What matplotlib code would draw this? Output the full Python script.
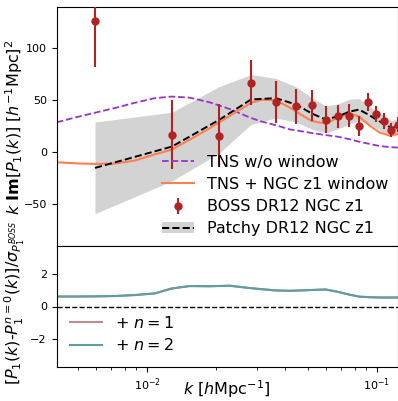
import numpy as np
import matplotlib
matplotlib.use("Agg")
import matplotlib.pyplot as plt

# ---- data ----
k_model = [0.00405, 0.00485, 0.00592, 0.00724, 0.00884, 0.0108, 0.0128, 0.0153,
           0.0187, 0.0229, 0.0283, 0.0315, 0.0363, 0.0417, 0.0461, 0.0520,
           0.0598, 0.0675, 0.0761, 0.0841, 0.0930, 0.1027, 0.1136, 0.1231]
tns_nowin = [28.8, 33.3, 37.9, 42.5, 47.5, 52.0, 53.5, 52.5, 48.0, 41.5, 33.0, 29.5,
             26.0, 22.0, 20.5, 18.5, 16.5, 15.0, 12.5, 10.0, 8.0, 6.0, 5.0, 4.5]
tns_win = [-9.6, -10.6, -11.2, -10.8, -8.0, -2.0, 2.5, 12.0, 23.0, 35.0, 47.5, 50.5,
           50.0, 43.0, 37.0, 30.0, 27.6, 33.0, 37.5, 34.0, 25.5, 19.0, 16.0, 17.5]
ratio_n1 = [0.61, 0.61, 0.62, 0.64, 0.70, 0.80, 1.1, 1.25, 1.24, 1.27, 1.12, 1.06,
            0.98, 0.96, 0.98, 1.01, 1.04, 0.9, 0.72, 0.6, 0.57, 0.55, 0.55, 0.55]
ratio_n2 = [0.61, 0.61, 0.62, 0.64, 0.70, 0.80, 1.1, 1.25, 1.24, 1.27, 1.12, 1.06,
            0.98, 0.96, 0.98, 1.01, 1.04, 0.9, 0.72, 0.6, 0.57, 0.55, 0.55, 0.55]

k_data = [0.00594, 0.01284, 0.02054, 0.02833, 0.03626, 0.04431, 0.05233, 0.05984,
          0.06797, 0.07577, 0.08353, 0.09176, 0.0994, 0.1077, 0.1155, 0.1231]
boss = [126.3, 17.0, 16.0, 67.0, 48.0, 44.2, 45.0, 31.2, 34.6, 35.3, 25.0, 48.1,
        36.9, 29.8, 21.2, 26.6]
boss_err = [44, 33, 30, 22, 20, 17, 15, 13, 11, 10.7, 9.6, 8.5, 8, 7.5, 7, 7]
patchy = [-15, 5.5, 31, 50.7, 52, 46, 37, 31.5, 34.6, 39, 41, 36.2, 31.4, 27, 23.4, 25]
patchy_sd = [44, 33, 32, 24, 19, 17, 15, 13, 12, 12, 10.5, 9, 8, 8, 7, 7]

W, H = 398, 401
fig = plt.figure(figsize=(W / 100, H / 100), dpi=100)
left = 56.5 / W
right = 1.0
ytop = 1 - 6.5 / H
ymid = 1 - 246 / H
ybot = 1 - 367 / H
ax1 = fig.add_axes([left, ymid, right - left, ytop - ymid])
ax2 = fig.add_axes([left, ybot, right - left, ymid - ybot], sharex=ax1)

pm = np.array(patchy)
ps = np.array(patchy_sd)
l1, = ax1.plot(k_model, tns_nowin, ls='--', color='darkorchid', lw=1.3, label='TNS w/o window')
l2, = ax1.plot(k_model, tns_win, ls='-', color='coral', lw=1.5, label='TNS + NGC z1 window')
band = ax1.fill_between(k_data, pm - ps, pm + ps, color='lightgray', lw=0, zorder=0)
l4, = ax1.plot(k_data, patchy, ls='--', color='black', lw=1.4)
eb = ax1.errorbar(k_data, boss, yerr=boss_err, fmt='o', color='firebrick', ms=5,
                  elinewidth=1.5, capsize=0, zorder=5)
ax1.set_xscale('log')
ax1.set_xlim(0.00404, 0.1234)
ax1.set_ylim(-90, 140)
ax1.set_yticks([-50, 0, 50, 100])
ax1.tick_params(axis='x', which='both', bottom=False, labelbottom=False)
ax1.tick_params(axis='y', labelsize=8)
ax1.set_ylabel(r'$k\ \mathbf{Im}[P_1(k)]\ [h^{-1}\mathrm{Mpc}]^2$', fontsize=11.5)
ax1.yaxis.set_label_coords(-0.092, 0.497)
ax1.legend([l1, l2, eb, (band, l4)],
           ['TNS w/o window', 'TNS + NGC z1 window', 'BOSS DR12 NGC z1', 'Patchy DR12 NGC z1'],
           loc='lower right', frameon=False, fontsize=11.5, labelspacing=0.45,
           borderaxespad=0.2, handletextpad=0.8)

ax2.plot(k_model, ratio_n1, color='rosybrown', lw=1.5, label=r'$+\ n=1$')
ax2.plot(k_model, ratio_n2, color='cadetblue', lw=1.5, label=r'$+\ n=2$')
ax2.axhline(0, color='black', ls='--', lw=1)
ax2.set_ylim(-3.7, 3.7)
ax2.set_yticks([-2, 0, 2])
ax2.tick_params(axis='both', which='both', labelsize=8)
ax2.set_xlabel(r'$k\ [h\mathrm{Mpc}^{-1}]$', fontsize=11.5)
ax2.xaxis.set_label_coords(0.5, -0.09)
ax2.set_ylabel(r'$[P_1(k)$-$P_1^{n=0}(k)]/\sigma_{P_1^{BOSS}}$', fontsize=11.5)
ax2.yaxis.set_label_coords(-0.085, 0.53)
ax2.legend(loc='lower left', frameon=False, fontsize=11.5, labelspacing=0.4,
           borderaxespad=0.45, handletextpad=0.8)

fig.savefig('out.png', dpi=100)
